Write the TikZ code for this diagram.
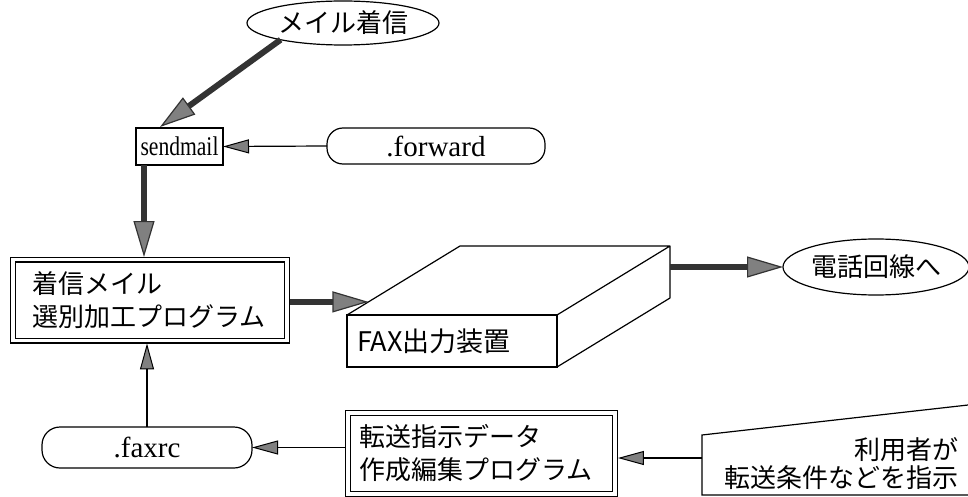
\documentclass[tikz,border=0pt]{standalone}
\usepackage{fontspec}
\usepackage{graphicx}
\setmainfont{Liberation Serif}
\newfontfamily\jp{Noto Sans CJK JP}
\usetikzlibrary{arrows.meta,shapes.geometric,calc}
\begin{document}
\begin{tikzpicture}[x=1pt,y=-1pt,
  every node/.style={inner sep=0pt, outer sep=0pt},
  jtext/.style={font=\jp\fontsize{26}{33}\selectfont},
  ltext/.style={font=\fontsize{29}{32}\selectfont},
  oval/.style={ellipse, draw, line width=1.2pt, jtext},
  plainbox/.style={rectangle, draw, line width=1.2pt},
  roundbox/.style={rectangle, draw, line width=1.2pt, rounded corners=16pt},
  dblbox/.style={rectangle, draw, line width=1.1pt, double, double distance=3.8pt, jtext, align=left},
  bigarrow/.style={line width=6pt, draw=black!80, -{Triangle[length=36pt,width=21pt,fill=black!50,line width=1.2pt]}},
  thinarrow/.style={line width=1.2pt, -{Triangle[length=26pt,width=14pt,fill=black!50,line width=1pt]}},
]
\useasboundingbox (0,0) rectangle (968,497);
\clip (0,0) rectangle (968,497);

% nodes
\node[oval, minimum width=192pt, minimum height=44pt] (mailin) at (343,23) {メイル着信};
\node[plainbox, font=\fontsize{27}{30}\selectfont, minimum width=87pt, minimum height=37pt] (sendmail) at (179.5,146.5) {\scalebox{0.8}[1]{sendmail}};
\node[roundbox, ltext, minimum width=218pt, minimum height=36pt] (forward) at (436,146) {.forward};
\node[dblbox, minimum width=274pt, minimum height=81pt, text width=236pt, inner xsep=19pt] (sel) at (150,300) {着信メイル\\選別加工プログラム};
\node[plainbox, font=\jp\fontsize{27}{30}\selectfont, minimum width=210pt, minimum height=52pt, text width=190pt, inner xsep=10pt, align=left] (fax) at (452,341) {FAX出力装置};
\coordinate (fbl) at ($(fax.north west)+(113,-69)$);
\coordinate (fbr) at ($(fax.north east)+(113,-69)$);
\coordinate (fbrb) at ($(fax.south east)+(113,-69)$);
\draw[line width=1.2pt, line join=round] (fax.north west) -- (fbl) -- (fbr) -- (fax.north east) (fbr) -- (fbrb) -- (fax.south east);
\node[oval, minimum width=186pt, minimum height=56pt] (tel) at (876,267) {電話回線へ};
\node[roundbox, ltext, minimum width=210pt, minimum height=41pt, rounded corners=18pt] (faxrc) at (147,447.5) {.faxrc};
\node[dblbox, minimum width=267pt, minimum height=81pt, text width=245pt, inner xsep=11pt] (trans) at (481.5,453.5) {転送指示データ\\作成編集プログラム};
\draw[line width=1.2pt] (702,495) -- (702,435) -- (1000,401.4) -- (1000,495) -- cycle;
\node[jtext, font=\jp\fontsize{26}{28}\selectfont, align=right, anchor=east] (user) at (958,464) {利用者が\\転送条件などを指示};
\coordinate (uin) at (702,458);

% connectors
\draw[bigarrow] (mailin.195) -- ($(sendmail.north west)+(24,-1)$);
\draw[thinarrow] (forward.west) -- (sendmail.east);
\coordinate (sdown) at ($(sendmail.south west)+(8,0)$);
\draw[bigarrow, shorten >=2.5pt] (sdown) -- (sdown |- sel.north);
\coordinate (faxin) at ($(fax.north west)!0.19!(fbl)$);
\draw[bigarrow] ($(sel.east |- faxin)+(2.9,0)$) -- (faxin);
\draw[bigarrow] (fbr |- tel.west) -- (tel.west);
\draw[thinarrow, shorten >=2.9pt] (faxrc.north) -- (faxrc.north |- sel.south);
\draw[thinarrow] ($(trans.west |- faxrc.east)+(-2.9,0)$) -- (faxrc.east);
\draw[thinarrow, shorten >=2.9pt] (uin) -- (uin -| trans.east);
\end{tikzpicture}
\end{document}
